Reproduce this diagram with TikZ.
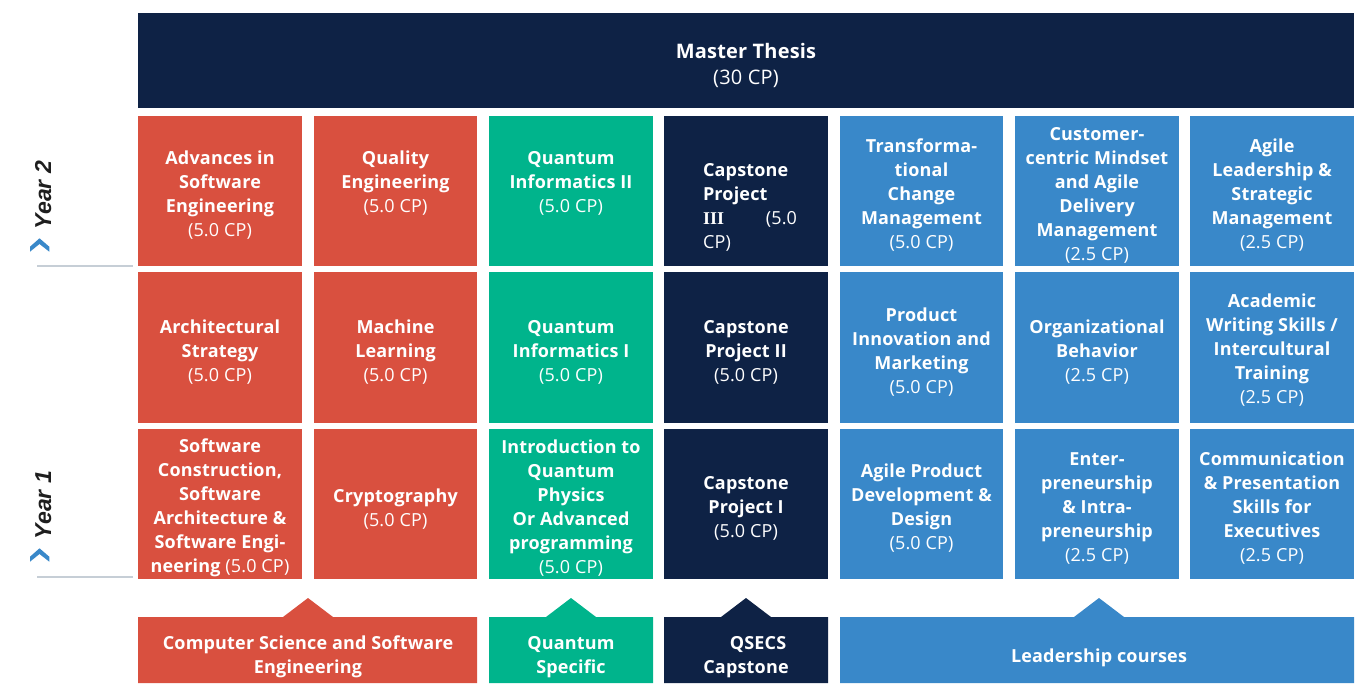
\documentclass[tikz,border=0pt]{standalone}
\usepackage{fontspec}
\setmainfont{Open Sans}[LetterSpace=1.0]
\newfontfamily\yearfont{Liberation Sans}
\newfontfamily\slabfont{Liberation Serif}

\definecolor{csred}{HTML}{D9503F}
\definecolor{qgreen}{HTML}{00B48C}
\definecolor{capnavy}{HTML}{0E2245}
\definecolor{leadblue}{HTML}{3988C9}
\definecolor{yearink}{HTML}{1E1E1E}
\definecolor{rulegray}{HTML}{C6CED6}

\newcommand\credits[1]{{\mdseries(#1~CP)}}

\tikzset{
  lbl/.style={text=white, align=center, inner sep=0pt,
    font=\fontsize{18}{24}\selectfont\bfseries},
  thesislbl/.style={lbl, font=\fontsize{20}{26}\selectfont\bfseries},
  yearlbl/.style={rotate=90, anchor=base, inner sep=0pt, text=yearink,
    font=\yearfont\fontsize{23}{23}\selectfont\bfseries\itshape},
  yearrule/.style={draw=rulegray, line width=2.6pt},
  chevron/.style={fill=leadblue},
}

\begin{document}
\begin{tikzpicture}[x=1pt, y=-1pt]
\useasboundingbox (0,0) rectangle (1364,683);

% ---- thesis bar ----
\fill[capnavy] (138,13) rectangle (1354,108);
\node[thesislbl] (thesis) at (746,65) {Master Thesis\\{\mdseries(30~CP)}};

% ---- course grid: columns x-ranges, rows y-ranges ----
\foreach \xa/\xb/\col in {138/302/csred, 314/477/csred, 489/653/qgreen,
    664/828/capnavy, 840/1003/leadblue, 1015/1179/leadblue, 1190/1354/leadblue}{
  \foreach \ya/\yb in {116/266, 272/423, 429/579}{
    \fill[\col] (\xa,\ya) rectangle (\xb,\yb);
  }
}

% ---- year 2 ----
\node[lbl] (t11) at (220,195) {Advances in\\Software\\Engineering\\\credits{5.0}};
\node[lbl] (t12) at (395.5,183) {Quality\\Engineering\\\credits{5.0}};
\node[lbl] (t13) at (571,183) {Quantum\\Informatics II\\\credits{5.0}};
\node[lbl, text width=94pt, align=left] (t14) at (750,207)
  {Capstone\\Project\\\makebox[94pt][l]{{\slabfont\bfseries III}\hfill\mdseries(5.0}\\{\mdseries CP)}};
\node[lbl] (t15) at (921.5,195) {Transforma-\\tional\\Change\\Management\\\credits{5.0}};
\node[lbl] (t16) at (1097,195) {Customer-\\centric Mindset\\and Agile\\Delivery\\Management\\\credits{2.5}};
\node[lbl] (t17) at (1272,195) {Agile\\Leadership \&\\Strategic\\Management\\\credits{2.5}};

\node[lbl] (t21) at (220,352) {Architectural\\Strategy\\\credits{5.0}};
\node[lbl] (t22) at (395.5,352) {Machine\\Learning\\\credits{5.0}};
\node[lbl] (t23) at (571,352) {Quantum\\Informatics I\\\credits{5.0}};
\node[lbl] (t24) at (746,352) {Capstone\\Project II\\\credits{5.0}};
\node[lbl] (t25) at (921.5,352) {Product\\Innovation and\\Marketing\\\credits{5.0}};
\node[lbl] (t26) at (1097,352) {Organizational\\Behavior\\\credits{2.5}};
\node[lbl] (t27) at (1272,350) {Academic\\Writing Skills /\\Intercultural\\Training\\\credits{2.5}};

% ---- year 1 ----
\node[lbl] (t31) at (220,508) {Software\\Construction,\\Software\\Architecture \&\\Software Engi-\\neering \credits{5.0}};
\node[lbl] (t32) at (395.5,509) {Cryptography\\\credits{5.0}};
\node[lbl] (t33) at (571,508) {Introduction to\\Quantum\\Physics\\Or Advanced\\programming\\\credits{5.0}};
\node[lbl] (t34) at (746,508) {Capstone\\Project I\\\credits{5.0}};
\node[lbl] (t35) at (921.5,508) {Agile Product\\Development \&\\Design\\\credits{5.0}};
\node[lbl] (t36) at (1097,508) {Enter-\\preneurship\\\& Intra-\\preneurship\\\credits{2.5}};
\node[lbl] (t37) at (1272,508) {Communication\\\& Presentation\\Skills for\\Executives\\\credits{2.5}};

% ---- track banners with pointer notches ----
\fill[csred] (138,617) -- (283,617) -- (308,598) -- (333,617) -- (477,617)
  -- (477,683) -- (138,683) -- cycle;
\fill[qgreen] (489,617) -- (546,617) -- (571,598) -- (596,617) -- (653,617)
  -- (653,683) -- (489,683) -- cycle;
\fill[capnavy] (664,617) -- (721,617) -- (746,598) -- (771,617) -- (828,617)
  -- (828,683) -- (664,683) -- cycle;
\fill[leadblue] (840,617) -- (1074,617) -- (1099,598) -- (1124,617) -- (1354,617)
  -- (1354,683) -- (840,683) -- cycle;

\node[lbl] (bcs) at (308,657) {Computer Science and Software\\Engineering};
\node[lbl] (bq) at (571,657) {Quantum\\Specific};
\node[lbl] (bcap) at (746,657) {\hspace*{24pt}QSECS\\Capstone};
\node[lbl] (blead) at (1099,658) {Leadership courses};

% ---- year markers ----
\node[yearlbl] (y2) at (51,195) {Year 2};
\fill[chevron] (30,246.7) -- (39.5,238.3) -- (49.3,246.7) -- (49.3,251.7)
  -- (39.5,244) -- (30,251.7) -- cycle;
\draw[yearrule] (37,266) -- (133,266);

\node[yearlbl] (y1) at (51,505) {Year 1};
\fill[chevron] (30,556.7) -- (39.5,548.3) -- (49.3,556.7) -- (49.3,561.7)
  -- (39.5,554) -- (30,561.7) -- cycle;
\draw[yearrule] (37,577) -- (133,577);
\end{tikzpicture}
\end{document}
